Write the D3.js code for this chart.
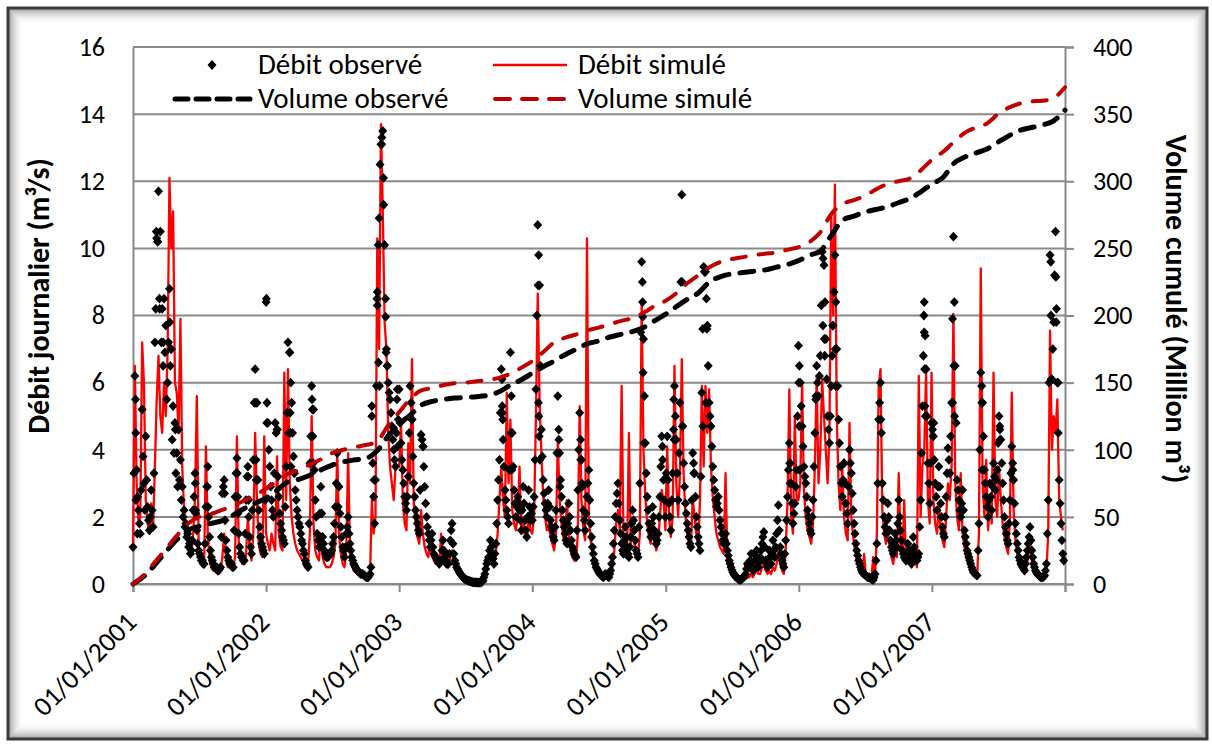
<!DOCTYPE html>
<html><head><meta charset="utf-8">
<script src="https://cdn.jsdelivr.net/npm/d3@7/dist/d3.min.js"></script>
<style>
body{margin:0;background:#fff}
svg{display:block}
text{font-family:Carlito,Calibri,Lato,"Open Sans",sans-serif;fill:#000}
</style></head>
<body><svg id="chart" width="1212" height="744"></svg>
<script>
// ---------------- DATA ----------------
const startDate = "2001-01-01";
const endDate = "2008-01-01";
const stepDays = 5; // regular sampling step of the flow series (days)
const xTickYears = [2001, 2002, 2003, 2004, 2005, 2006, 2007, 2008];
const yLeftTicks = [0, 2, 4, 6, 8, 10, 12, 14, 16];
const yRightTicks = [0, 50, 100, 150, 200, 250, 300, 350, 400];
const seriesNames = ["Débit observé", "Débit simulé", "Volume observé", "Volume simulé"];

// Observed daily flow (m3/s), one value every 5 days (day 0, 5, 10, ...)
const obs2001 = [1.1,6.2,3.4,2.2,1.5,5.2,3.0,4.4,2.3,1.6, 2.8,1.7,7.2,10.3,11.7,10.5,8.2,8.5,7.7,6.0, 8.8,7.0,5.3,4.8,3.9,4.6,3.7,2.9,2.2,1.8, 1.5,1.2,1.0,2.2,3.3,1.6,1.0,0.8,0.7,0.6, 2.3,3.5,1.4,0.8,0.6,0.5,0.5,0.4,0.5,2.7, 3.1,1.3,0.8,0.6,0.6,0.5,2.6,3.75,1.5,0.9, 0.8,0.7,2.5,3.5,1.4,0.9,3.7,6.4,5.4,2.2, 1.4,1.1,0.9];
const obs2002 = [8.4,4.8,3.5,2.5,2.0,4.8,4.6,2.6,1.8,1.4, 1.2,3.5,7.2,6.9,5.4,3.8,2.8,2.2,1.8,1.5, 1.2,0.9,0.6,0.5,3.6,5.9,5.2,2.5,1.5,1.1, 2.9,1.4,1.0,0.8,0.8,0.9,1.0,1.4,2.3,3.9, 2.9,1.7,1.1,0.8,1.5,2.0,1.2,0.8,0.6,0.5, 0.4,0.35,0.3,0.3,0.25,0.2,0.2,0.3,5.3,2.6, 3.1,8.7,10.9,13.1,13.5,10.1,7.0,6.0,5.5,4.7, 4.0,3.5,5.8];
const obs2003 = [5.8,4.2,3.4,2.6,2.2,3.2,5.9,4.9,3.0,2.2, 1.8,1.5,4.45,4.1,2.9,2.0,1.5,1.1,1.5,0.9, 0.8,0.7,0.6,0.7,1.3,0.8,0.6,0.6,1.3,1.8, 0.9,0.6,0.45,0.35,0.28,0.2,0.15,0.12,0.1,0.08, 0.06,0.05,0.05,0.04,0.04,0.05,0.1,0.3,0.6,0.8, 1.3,0.9,0.6,1.2,2.5,3.7,6.4,4.3,2.8,2.2, 1.8,6.9,4.5,2.8,2.0,2.6,2.2,1.6,2.9,1.9, 1.4,2.8,1.9];
const obs2004 = [1.9,2.6,5.8,10.7,8.9,4.6,3.1,2.4,2.0,2.8, 1.9,1.6,1.3,2.2,5.6,3.9,2.6,1.9,1.5,1.2, 2.4,1.6,1.1,0.9,0.8,2.8,5.1,3.7,2.2,1.6, 2.6,3.4,1.8,1.1,0.7,0.5,0.4,0.3,0.25,0.2, 0.3,0.25,0.2,0.4,0.8,1.6,2.4,3.0,1.9,1.2, 0.9,1.7,1.1,0.8,1.4,2.2,1.6,1.0,0.8,3.0, 9.6,7.3,4.2,2.6,1.8,1.4,2.3,1.6,1.2,1.5, 2.6,4.4,3.1];
const obs2005 = [2.0,4.4,2.4,1.6,3.3,5.9,4.3,2.5,5.4,11.6, 3.6,2.4,1.8,1.4,1.1,3.9,3.3,2.0,1.4,1.0, 5.7,9.45,9.3,7.7,5.4,4.7,3.5,2.8,2.3,2.6, 1.9,1.5,1.2,1.5,1.0,0.7,0.5,0.35,0.25,0.2, 0.15,0.12,0.15,0.2,0.3,0.6,0.5,0.9,0.4,0.7, 1.0,0.5,0.8,1.2,1.55,0.7,0.5,1.0,0.6,1.3, 0.8,1.5,2.35,1.1,0.7,0.5,1.3,2.6,4.2,3.0, 1.8,2.4,3.4];
const obs2006 = [7.1,6.0,4.7,3.5,3.0,2.2,1.8,1.5,2.5,4.5, 6.5,5.6,6.8,9.9,9.5,7.3,5.0,4.2,5.9,7.7, 9.8,7.0,4.9,3.5,2.6,3.6,2.4,1.8,4.0,3.3, 2.2,1.5,1.0,0.7,0.5,0.35,0.3,0.25,0.2,0.2, 0.15,0.12,0.3,1.2,4.9,6.0,3.0,2.0,1.5,2.4, 1.6,1.1,0.9,1.5,1.1,2.5,1.6,1.0,0.8,0.7, 1.2,0.8,0.6,1.4,0.9,0.7,0.9,2.5,5.3,8.4, 6.4,3.6,2.4];
const obs2007 = [4.8,4.4,3.0,2.2,3.5,2.4,1.7,1.4,2.6,4.05, 3.3,5.4,10.35,6.5,3.1,2.5,2.0,2.8,1.6,1.2, 0.9,0.7,0.5,0.35,0.3,0.25,1.8,6.3,5.4,3.4, 2.6,2.0,3.0,2.2,3.6,2.8,3.4,5.0,4.3,3.0, 2.0,1.5,1.2,2.5,4.1,3.1,1.8,1.2,0.8,0.6, 0.5,0.4,0.8,1.2,1.7,1.0,0.6,0.4,0.3,0.25, 0.2,0.2,0.25,0.6,2.5,9.8,6.1,7.8,10.5,6.0, 3.1,1.8,0.9];

// Observed flow at the intermediate days (day 2.5, 7.5, 12.5, ...)
const mid2001 = [3.3,4.5,2.6,1.8,2.8,3.8,2.2,3.1,1.9,2.0, 2.2,3.3,8.2,10.2,8.5,7.2,6.5,6.9,5.5,7.2, 6.5,4.3,3.9,3.3,2.9,3.1,2.5,2.0,1.7,1.4, 1.1,0.9,1.3,2.6,2.1,1.2,0.9,0.7,0.6,1.2, 2.9,2.0,1.0,0.7,0.5,0.45,0.4,0.45,1.4,2.9, 1.9,1.0,0.7,0.6,0.5,1.6,3.3,2.1,1.1,0.8, 0.7,1.5,3.2,2.0,1.1,2.2,5.4,3.7,3.1,1.7, 1.2,1.0,2.5];
const mid2002 = [5.4,4.0,2.9,2.2,3.3,4.5,3.2,2.1,1.6,1.3, 2.3,5.1,4.5,6.0,4.5,3.3,2.5,2.0,1.7,1.3, 1.0,0.7,0.55,1.8,4.4,4.4,3.4,2.0,1.3,2.1, 2.1,1.2,0.9,0.8,0.85,0.9,1.2,1.8,3.0,2.3, 2.1,1.4,1.0,1.1,1.7,1.5,1.0,0.7,0.55,0.45, 0.38,0.32,0.3,0.28,0.22,0.2,0.25,0.5,3.6,1.8, 5.9,10.1,12.5,13.3,11.3,8.5,6.5,5.7,5.1,4.3, 3.7,4.5,4.9];
const mid2003 = [4.8,3.7,3.0,2.4,2.6,4.5,5.4,3.8,2.6,2.0, 1.6,2.8,4.3,3.5,2.4,1.7,1.3,1.3,1.1,0.85, 0.75,0.65,0.65,1.0,1.0,0.7,0.6,0.9,1.6,1.2, 0.7,0.5,0.4,0.3,0.24,0.17,0.13,0.11,0.09,0.07, 0.05,0.05,0.045,0.04,0.045,0.07,0.2,0.45,0.7,1.0, 1.1,0.75,0.9,1.8,3.1,5.1,5.3,3.5,2.5,2.0, 3.4,5.6,3.5,2.4,2.3,2.4,1.9,2.2,2.4,1.6, 2.0,2.3,2.1];
const mid2004 = [2.3,3.7,8.0,9.8,6.5,3.8,2.7,2.2,2.4,2.3, 1.7,1.4,1.7,3.9,4.6,3.1,2.2,1.7,1.3,1.8, 2.0,1.3,1.0,0.85,1.6,4.0,4.3,2.9,1.9,2.1, 3.0,2.5,1.4,0.9,0.6,0.45,0.35,0.28,0.22,0.25, 0.28,0.22,0.3,0.6,1.2,2.0,2.7,2.4,1.5,1.0, 1.3,1.4,0.9,1.1,1.8,1.9,1.3,0.9,1.7,7.5, 8.4,5.6,3.3,2.2,1.6,1.8,2.0,1.4,1.3,2.0, 3.5,3.7,2.5];
const mid2005 = [3.3,3.1,2.0,2.5,4.6,5.0,3.3,3.9,9.0,4.7, 2.9,2.1,1.6,1.2,2.5,3.6,2.6,1.7,1.2,3.2, 7.6,9.3,8.5,6.5,5.0,4.1,3.1,2.5,2.4,2.2, 1.7,1.3,1.3,1.2,0.85,0.6,0.42,0.3,0.22,0.17, 0.13,0.13,0.18,0.25,0.45,0.55,0.7,0.6,0.55,0.85, 0.7,0.65,1.0,1.4,1.1,0.6,0.75,0.8,0.9,1.0, 1.1,1.9,1.6,0.9,0.6,0.9,1.9,3.4,3.6,2.4, 2.1,2.9,5.0];
const mid2006 = [6.5,5.3,4.1,3.2,2.6,2.0,1.6,2.0,3.5,5.5, 6.0,6.2,8.3,9.7,8.4,6.1,4.6,5.0,6.8,8.7, 8.4,5.9,4.2,3.0,3.1,3.0,2.1,2.9,3.6,2.7, 1.8,1.2,0.85,0.6,0.42,0.32,0.27,0.22,0.2,0.17, 0.13,0.2,0.7,3.0,5.4,4.5,2.5,1.7,1.9,2.0, 1.3,1.0,1.2,1.3,1.8,2.0,1.3,0.9,0.75,0.9, 1.0,0.7,1.0,1.1,0.8,0.8,1.7,3.9,6.8,7.4, 5.0,3.0,3.6];
const mid2007 = [4.6,3.7,2.6,2.9,2.9,2.0,1.5,2.0,3.3,3.7, 4.4,7.9,8.4,4.8,2.8,2.2,2.4,2.2,1.4,1.0, 0.8,0.6,0.42,0.32,0.27,1.0,4.0,5.9,4.4,3.0, 2.3,2.5,2.6,2.9,3.2,3.1,4.2,4.6,3.6,2.5, 1.7,1.3,1.8,3.3,3.6,2.4,1.5,1.0,0.7,0.55, 0.45,0.6,1.0,1.4,1.3,0.8,0.5,0.35,0.27,0.22, 0.2,0.22,0.4,1.5,6.0,8.0,7.0,9.2,8.2,4.5, 2.4,1.3,0.7];

// Extra daily observations during floods (day offset from start, value)
const obsExtraDays = [7,8,12,64,68,73,83,101,104,116,171,172,204,206,251,286,287,316,317,337,338,
  366,367,396,429,431,432,433,491,492,493,494,562,655,661,669,670,673,676,682,687,693,694,697,724,726,
  765,796,1012,1013,1014,1037,1039,
  1111,1112,1113,1114,1116,1168,1171,1228,1231,1397,1398,1399,1401,1452,
  1483,1484,1506,1507,1538,1568,1574,1571,1563,1801,1802,1826,1827,1828,
  1873,1892,1896,1897,1919,1926,1927,1950,2051,2169,2170,2171,2172,2173,2196,
  2194,2248,2251,2253,2328,2329,2377,2378,2413,2414,2517,2518,2531,2532,2537];
const obsExtraValues = [5.5,2.5,1.5,10.5,10.2,8.2,7.2,7.8,7.0,4.6,3.0,2.2,2.9,2.3,2.7,3.3,2.6,3.2,2.5,5.4,3.1,
  8.5,4.8,4.6,6.9,5.1,4.5,3.5,5.5,5.2,4.4,3.6,2.3,5.0,3.1,8.5,8.3,6.6,5.9,13.1,12.1,7.96,6.9,6.5,5.5,4.1,
  4.9,4.1,6.1,5.1,4.9,4.5,3.4,
  8.9,5.4,5.0,4.4,3.7,4.3,2.9,3.7,3.0,9.0,7.96,6.3,4.2,4.1,
  5.5,4.3,9.0,4.7,3.3,9.3,7.6,5.4,4.7,3.6,3.0,6.0,4.7,3.4,
  5.6,7.7,7.3,6.8,7.7,7.0,5.9,3.6,4.9,8.0,7.5,6.4,5.3,5.0,4.8,
  4.4,5.4,6.5,5.0,5.4,3.4,4.7,4.3,3.4,3.1,9.6,6.1,9.15,7.8,6.0];

// Simulated daily flow (m3/s), one value every 5 days
const sim2001 = [1.0,6.5,3.0,1.8,2.0,7.2,6.0,2.5,1.8,1.5, 2.4,1.6,3.5,5.5,6.8,5.0,4.5,6.0,5.0,7.0, 12.1,10.0,11.1,6.0,5.7,4.5,7.9,3.5,2.2,1.6, 1.2,1.0,0.9,1.5,2.5,5.6,1.2,0.7,0.6,0.5, 4.1,1.5,0.7,0.5,0.4,0.4,0.4,0.4,0.4,0.8, 1.5,0.8,0.5,0.5,0.5,0.5,0.8,4.4,1.2,0.7, 0.6,0.6,0.9,2.0,1.0,0.7,1.5,4.5,2.5,1.2, 0.9,0.8,4.4];
const sim2002 = [1.5,1.2,1.0,1.5,1.2,1.0,3.8,1.5,1.1,1.0, 6.3,2.5,6.4,3.0,2.0,1.5,1.2,1.0,0.9,0.8, 0.7,0.6,0.5,0.5,1.5,5.0,1.8,1.0,0.8,0.7, 1.5,0.8,0.6,0.5,0.5,0.5,0.6,0.8,1.2,4.0, 1.5,0.9,0.6,0.5,1.0,3.9,1.0,0.6,0.4,0.35, 0.3,0.25,0.2,0.2,0.2,0.15,0.15,0.2,2.5,1.5, 2.0,10.3,7.0,13.7,11.1,7.8,7.0,4.5,3.5,3.0, 2.5,3.5,3.5];
const sim2003 = [3.5,4.8,2.5,1.8,1.6,4.2,3.0,6.7,2.4,1.8, 1.4,1.2,2.2,1.5,1.1,0.9,0.8,1.4,0.9,0.7, 0.6,0.6,0.5,1.5,0.8,0.6,0.5,0.5,0.8,1.0, 0.6,0.45,0.35,0.28,0.22,0.18,0.14,0.12,0.1,0.08, 0.07,0.06,0.06,0.06,0.07,0.1,0.2,0.4,0.6,0.7, 1.0,0.7,0.5,0.9,1.5,2.5,3.5,2.5,2.0,5.7, 3.0,4.9,2.2,1.8,1.6,2.0,3.5,1.5,2.0,1.4, 1.3,2.1,1.6];
const sim2004 = [1.5,2.0,5.0,8.65,5.5,3.9,2.6,2.0,1.6,1.8, 1.4,1.2,1.0,1.5,4.3,2.5,1.8,1.4,1.2,2.5, 1.5,1.0,0.8,0.7,0.7,1.5,5.3,2.5,1.6,1.3, 10.3,2.0,1.3,0.9,0.6,0.45,0.35,0.3,0.25,0.2, 0.2,0.2,0.2,0.3,0.5,1.0,1.8,2.2,1.6,5.9, 1.5,1.1,0.9,4.5,1.2,1.5,1.2,0.9,0.8,1.5, 8.4,4.0,2.6,1.8,1.4,1.2,1.8,1.3,1.0,1.2, 2.0,2.8,2.5];
const sim2005 = [1.6,4.1,2.0,1.4,2.0,6.5,3.0,2.0,3.3,6.7, 3.3,2.0,1.5,1.2,1.0,2.6,2.0,1.5,1.1,2.5, 5.9,3.5,5.9,4.5,5.8,3.5,2.6,2.0,1.5,1.3, 1.1,1.0,0.9,3.3,0.8,0.5,0.35,0.25,0.2,0.15, 0.12,0.1,0.1,0.12,0.15,0.2,0.2,0.3,0.2,0.3, 0.4,0.3,0.3,0.5,0.6,0.4,0.3,0.4,0.3,0.5, 0.4,0.6,1.0,0.6,0.4,0.3,1.0,2.5,5.8,2.0, 1.5,5.0,2.5];
const sim2006 = [2.5,3.0,6.0,2.8,2.0,1.6,1.4,1.2,1.8,3.5, 6.2,3.0,4.0,6.1,5.0,4.0,3.0,4.5,11.0,8.0, 11.9,5.0,3.0,2.2,3.5,2.0,1.5,1.3,4.8,2.0, 1.4,1.0,0.7,0.5,0.35,0.25,0.9,0.25,0.2,0.15, 0.15,0.8,0.2,1.5,5.9,6.4,2.2,1.5,1.2,1.6, 1.1,0.8,0.6,1.0,0.8,3.3,1.2,0.8,2.5,0.6, 0.8,0.6,0.5,1.0,0.7,0.5,6.2,2.0,3.5,4.0, 6.3,2.5,1.8];
const sim2007 = [6.3,2.5,1.8,1.5,2.4,1.6,1.3,1.1,2.0,3.0, 2.5,3.5,8.05,3.0,2.0,1.6,3.3,1.5,1.1,0.8, 0.6,0.5,0.4,0.3,0.25,0.2,1.5,9.4,3.0,2.0, 3.7,1.6,2.4,1.8,6.3,2.5,2.0,3.5,2.5,1.8, 1.4,1.1,0.9,2.0,5.7,2.2,1.3,0.9,0.6,0.5, 0.4,0.3,0.5,0.8,1.2,0.7,0.4,0.3,0.25,0.2, 0.2,0.2,0.2,0.4,1.5,7.55,4.0,5.0,4.5,5.5, 2.5,2.0,1.6];

// Cumulative volumes (million m3), first day of each month Jan 2001 .. Jan 2008
const volObs = [0,6,14,24,33,40,43,45,47,51,56,60, 64,70,76,78,81,85,88.5,91,92.5,93.5,99,110, 119,126,133,136,137.5,138.5,139,139.5,140.5,143,148,152, 157,162,166,171,175,179,181,184,186,188,191,196, 201,207,212,217,225,229,231,232,233,234,236,238, 241,245,248,260,271,274,277,279,281,284,287,292, 298,303,313,318,321,324,329,334,338,340,342,345, 353];
const volSim = [0,7,16,26,36,45,50,52,55,58,62,66, 71,77,82,85,89,93,97.5,100,102,103.5,106,118, 128,138,144,146,148,149.5,150,151,152,153.5,156.5,161, 166,173,180,183.5,186,189,191,193.5,196,198,202,207, 211,217,224,230,236,240,242,243.5,245,246,247,249, 251,255,262,276,283,286,289,294,298,300,302,308, 316,322,329,336,340,343,350,355,358,359.5,360,362, 370];

// ---------------- BUILD ----------------
const parse = d3.utcParse("%Y-%m-%d");
const t0 = parse(startDate), t1 = parse(endDate);
const obsFlow = [].concat(obs2001, obs2002, obs2003, obs2004, obs2005, obs2006, obs2007);
const obsMid = [].concat(mid2001, mid2002, mid2003, mid2004, mid2005, mid2006, mid2007);
const simFlow = [].concat(sim2001, sim2002, sim2003, sim2004, sim2005, sim2006, sim2007);
const simPts = simFlow.map((v, i) => ({date: d3.utcDay.offset(t0, i * stepDays), v}));
const obsPts = obsFlow.map((v, i) => ({date: d3.utcDay.offset(t0, i * stepDays), v}))
  .concat(obsMid.map((v, i) => ({date: d3.utcHour.offset(t0, (i * stepDays + stepDays / 2) * 24), v})))
  .concat(obsExtraDays.map((d, j) => ({date: d3.utcDay.offset(t0, d), v: obsExtraValues[j]})))
  .filter(d => d.date < t1);
const volObsPts = volObs.map((v, m) => ({date: d3.utcMonth.offset(t0, m), v}));
const volSimPts = volSim.map((v, m) => ({date: d3.utcMonth.offset(t0, m), v}));

const M = {left: 133, right: 1065, top: 47, bottom: 584};
const svg = d3.select("#chart");

const x = d3.scaleUtc().domain([t0, t1]).range([M.left, M.right]);
const yL = d3.scaleLinear().domain([0, 16]).range([M.bottom, M.top]);
const yR = d3.scaleLinear().domain([0, 400]).range([M.bottom, M.top]);

// frame with inner shadow
const frame = svg.append("g");
for (let i = 0; i < 15; i++) {
  frame.append("rect").attr("x", 9.5 + i).attr("y", 9.5 + i)
    .attr("width", 1196 - 2 * i).attr("height", 728 - 2 * i)
    .attr("fill", "none").attr("stroke", "#000")
    .attr("stroke-opacity", 0.33 * Math.pow(1 - i / 15, 2)).attr("stroke-width", 1);
}
frame.append("rect").attr("x", 8).attr("y", 8).attr("width", 1199).attr("height", 731)
  .attr("fill", "none").attr("stroke", "#3a3a3a").attr("stroke-width", 3);

const gridColor = "#898989";
svg.append("g").selectAll("line").data(yLeftTicks).join("line")
  .attr("x1", M.left).attr("x2", M.right)
  .attr("y1", d => yL(d)).attr("y2", d => yL(d))
  .attr("stroke", gridColor).attr("stroke-width", 2);

// axes
const fmt = d3.utcFormat("%d/%m/%Y");
const xAxis = svg.append("g").attr("transform", `translate(0,${M.bottom})`)
  .call(d3.axisBottom(x).tickValues(xTickYears.map(yv => new Date(Date.UTC(yv, 0, 1))))
    .tickSize(8).tickFormat(() => ""));
xAxis.select(".domain").attr("stroke", gridColor).attr("stroke-width", 2);
xAxis.selectAll(".tick line").attr("stroke", gridColor).attr("stroke-width", 2);

svg.append("g").selectAll("text").data(xTickYears.slice(0, -1)).join("text")
  .attr("transform", d => `translate(${x(new Date(Date.UTC(d, 0, 1))) + 5},${M.bottom + 40}) rotate(-45)`)
  .attr("text-anchor", "end").style("font-size", "27.5px")
  .text(d => fmt(new Date(Date.UTC(d, 0, 1))));

const yAxisL = svg.append("g").attr("transform", `translate(${M.left},0)`)
  .call(d3.axisLeft(yL).tickValues(yLeftTicks).tickSize(0).tickPadding(28));
yAxisL.select(".domain").attr("stroke", gridColor).attr("stroke-width", 2);
yAxisL.selectAll("text").style("font-size", "26px").style("font-family", "Carlito,Calibri,Lato,sans-serif");

const yAxisR = svg.append("g").attr("transform", `translate(${M.right},0)`)
  .call(d3.axisRight(yR).tickValues(yRightTicks).tickSize(9).tickPadding(19));
yAxisR.select(".domain").attr("stroke", gridColor).attr("stroke-width", 2);
yAxisR.selectAll(".tick line").attr("stroke", gridColor).attr("stroke-width", 2);
yAxisR.selectAll("text").style("font-size", "26px").style("font-family", "Carlito,Calibri,Lato,sans-serif");

// axis titles
svg.append("text").attr("transform", "translate(49,296) rotate(-90)")
  .attr("text-anchor", "middle").style("font-size", "30px").style("font-weight", "bold")
  .text("Débit journalier (m³/s)");
svg.append("text").attr("transform", "translate(1166,309) rotate(90)")
  .attr("text-anchor", "middle").style("font-size", "30px").style("font-weight", "bold")
  .text("Volume cumulé (Million m³)");

// series
const plot = svg.append("g");
plot.append("path").datum(simPts)
  .attr("d", d3.line().x(d => x(d.date)).y(d => yL(d.v)))
  .attr("fill", "none").attr("stroke", "#ff0000").attr("stroke-width", 2.3).attr("stroke-linejoin", "round");

const diamond = "M0,-4.9L4.5,0L0,4.9L-4.5,0Z";
plot.append("g").selectAll("path").data(obsPts).join("path")
  .attr("transform", d => `translate(${x(d.date)},${yL(d.v)})`)
  .attr("d", diamond).attr("fill", "#000");

plot.append("path").datum(volObsPts)
  .attr("d", d3.line().curve(d3.curveMonotoneX).x(d => x(d.date)).y(d => yR(d.v)))
  .attr("fill", "none").attr("stroke", "#000").attr("stroke-width", 5)
  .attr("stroke-dasharray", "14,11").attr("stroke-linecap", "round");
plot.append("path").datum(volSimPts)
  .attr("d", d3.line().curve(d3.curveMonotoneX).x(d => x(d.date)).y(d => yR(d.v)))
  .attr("fill", "none").attr("stroke", "#c00000").attr("stroke-width", 4)
  .attr("stroke-dasharray", "14,13").attr("stroke-linecap", "round");

// legend
const lg = svg.append("g").style("font-size", "29px");
lg.append("path").attr("transform", "translate(212,65)").attr("d", diamond).attr("fill", "#000");
lg.append("text").attr("x", 258).attr("y", 74).text(seriesNames[0]);
lg.append("line").attr("x1", 493).attr("x2", 567).attr("y1", 65).attr("y2", 65)
  .attr("stroke", "#ff0000").attr("stroke-width", 2.3);
lg.append("text").attr("x", 578).attr("y", 74).text(seriesNames[1]);
lg.append("line").attr("x1", 175).attr("x2", 250).attr("y1", 99).attr("y2", 99)
  .attr("stroke", "#000").attr("stroke-width", 5).attr("stroke-dasharray", "13,8").attr("stroke-linecap", "round");
lg.append("text").attr("x", 258).attr("y", 108).text(seriesNames[2]);
lg.append("line").attr("x1", 495).attr("x2", 567).attr("y1", 99).attr("y2", 99)
  .attr("stroke", "#c00000").attr("stroke-width", 4).attr("stroke-dasharray", "15,12").attr("stroke-linecap", "round");
lg.append("text").attr("x", 578).attr("y", 108).text(seriesNames[3]);
</script></body></html>
